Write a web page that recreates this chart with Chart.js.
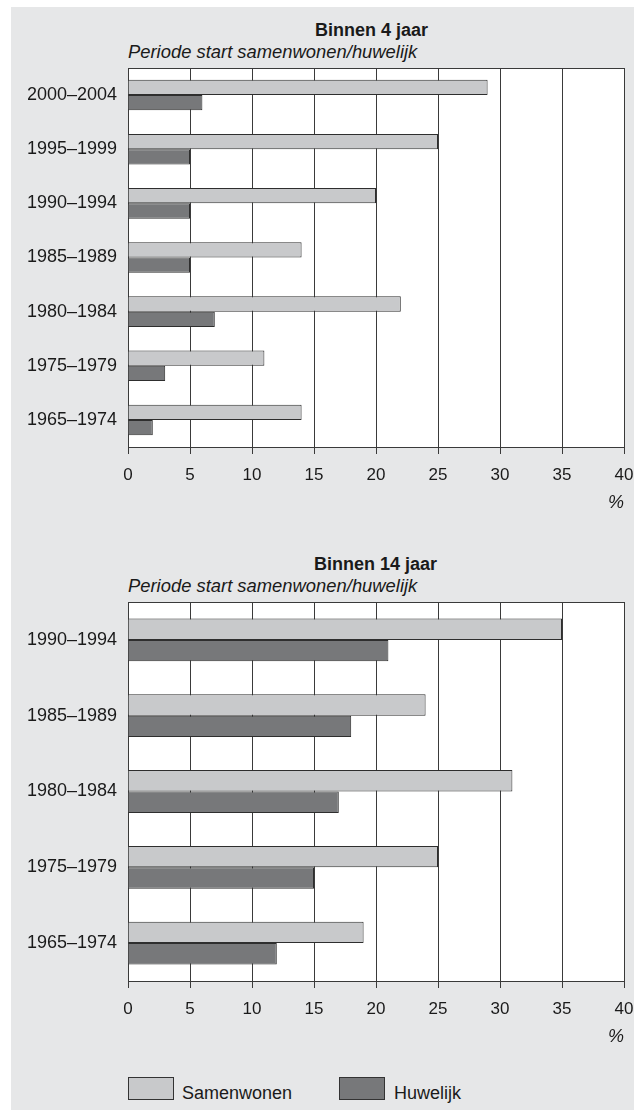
<!DOCTYPE html>
<html>
<head>
<meta charset="utf-8">
<script src="https://cdn.jsdelivr.net/npm/chart.js@4"></script>
<style>
  body { margin: 0; background: #fff; font-family: "Liberation Sans", Arial, sans-serif; color: #1a1a1a; }
  #page { position: relative; width: 634px; height: 1110px; overflow: hidden; }
  #panel { position: absolute; left: 11px; top: 7px; right: 0; bottom: 0; background: #e6e7e8; }
  .box { position: absolute; left: 0; width: 634px; height: 514px; }
  .title { position: absolute; font-size: 18px; line-height: 18px; font-weight: bold; white-space: nowrap; }
  .sub { position: absolute; left: 128px; font-size: 18.4px; line-height: 18.4px; font-style: italic; white-space: nowrap; }
  .leg-box { position: absolute; width: 44px; height: 21px; border: 1px solid #333; }
  .leg-txt { position: absolute; font-size: 18px; line-height: 18px; white-space: nowrap; }
</style>
</head>
<body>
<div id="page">
  <div id="panel"></div>

  <div class="title" style="left:315px; top:21px">Binnen 4 jaar</div>
  <div class="sub" style="top:43px">Periode start samenwonen/huwelijk</div>
  <div class="box" style="top:0"><canvas id="chart4"></canvas></div>

  <div class="title" style="left:314px; top:555px">Binnen 14 jaar</div>
  <div class="sub" style="top:577px">Periode start samenwonen/huwelijk</div>
  <div class="box" style="top:534px"><canvas id="chart14"></canvas></div>

  <div class="leg-box" id="legS" style="left:128px; top:1077px"></div>
  <div class="leg-txt" style="left:182px; top:1084px">Samenwonen</div>
  <div class="leg-box" id="legH" style="left:339px; top:1077px"></div>
  <div class="leg-txt" style="left:394px; top:1084px">Huwelijk</div>
</div>

<script>
const periods4 = ['2000–2004', '1995–1999', '1990–1994', '1985–1989', '1980–1984', '1975–1979', '1965–1974'];
const samenwonen4 = [29, 25, 20, 14, 22, 11, 14];
const huwelijk4 = [6, 5, 5, 5, 7, 3, 2];

const periods14 = ['1990–1994', '1985–1989', '1980–1984', '1975–1979', '1965–1974'];
const samenwonen14 = [35, 24, 31, 25, 19];
const huwelijk14 = [21, 18, 17, 15, 12];

const xMin = 0, xMax = 40, xStep = 5;

const lightGrey = '#c8c9cb';
const darkGrey = '#77787a';
const lineCol = '#3a3a3a';

document.getElementById('legS').style.background = lightGrey;
document.getElementById('legH').style.background = darkGrey;

// white plot background
const plotBg = {
    id: 'plotBg',
    beforeDraw(chart) {
        const a = chart.chartArea;
        chart.ctx.save();
        chart.ctx.fillStyle = '#fff';
        chart.ctx.fillRect(a.left, a.top, a.right - a.left, a.bottom - a.top);
        chart.ctx.restore();
    }
};

function makeChart(id, labels, samen, huw) {
    return new Chart(document.getElementById(id), {
        type: 'bar',
        data: {
            labels: labels,
            datasets: [
                { label: 'Samenwonen', data: samen, backgroundColor: lightGrey },
                { label: 'Huwelijk', data: huw, backgroundColor: darkGrey }
            ]
        },
        options: {
            indexAxis: 'y',
            responsive: true,
            maintainAspectRatio: false,
            animation: false,
            datasets: {
                bar: { categoryPercentage: 0.565, barPercentage: 1, borderWidth: 1, borderColor: '#2e2e2e' }
            },
            layout: { padding: { left: 28, right: 10, top: 68, bottom: 0 } },
            plugins: { legend: { display: false }, tooltip: { enabled: false } },
            scales: {
                x: {
                    type: 'linear',
                    position: 'bottom',
                    min: xMin, max: xMax,
                    ticks: { stepSize: xStep, padding: 11, color: '#1a1a1a', font: { family: 'Liberation Sans', size: 17 } },
                    grid: { color: lineCol, lineWidth: 1, tickLength: 7, tickColor: lineCol },
                    border: { display: true, color: lineCol, width: 1 },
                    title: {
                        display: true, text: '%', align: 'end', color: '#1a1a1a',
                        padding: { top: -4, bottom: 0 },
                        font: { family: 'Liberation Sans', size: 18, style: 'italic' }
                    },
                    // keep the "40" overhang from squeezing the plot
                    afterFit(scale) { scale.paddingLeft = 0; scale.paddingRight = 10; }
                },
                xTop: {
                    type: 'linear',
                    position: 'top',
                    axis: 'x',
                    min: xMin, max: xMax,
                    ticks: { display: false },
                    grid: { display: false, drawTicks: false },
                    border: { display: true, color: lineCol, width: 1 }
                },
                y: {
                    type: 'category',
                    grid: { display: false, drawTicks: false },
                    border: { display: true, color: lineCol, width: 1 },
                    ticks: { padding: 11, color: '#1a1a1a', font: { family: 'Liberation Sans', size: 18 } },
                    afterFit(scale) { scale.width = 100; }
                }
            }
        },
        plugins: [plotBg]
    });
}

makeChart('chart4', periods4, samenwonen4, huwelijk4);
makeChart('chart14', periods14, samenwonen14, huwelijk14);
</script>
</body>
</html>
